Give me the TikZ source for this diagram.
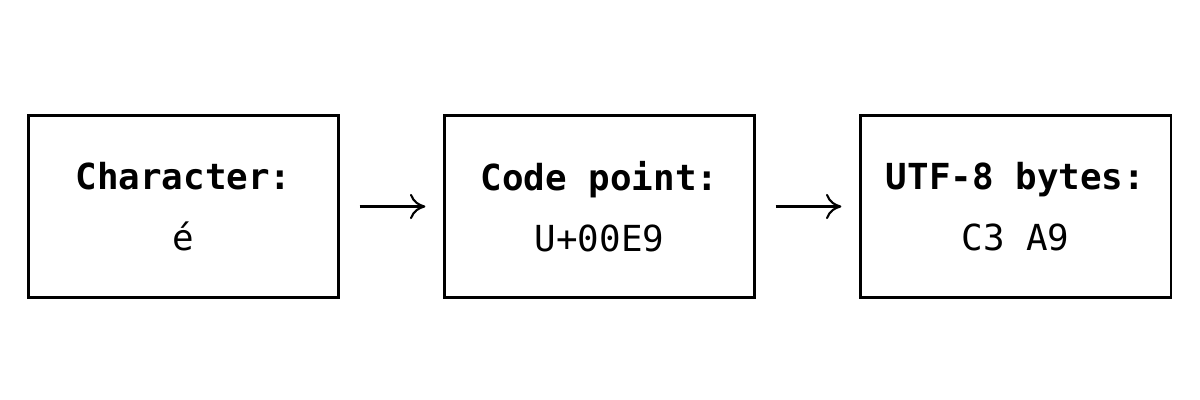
\documentclass[tikz,border=0pt]{standalone}
\usepackage{fontspec}
\setmonofont{DejaVu Sans Mono}
\usetikzlibrary{arrows.meta}
\begin{document}
\begin{tikzpicture}[x=0.025cm,y=-0.025cm,
  box/.style={draw,line width=1.5pt,minimum width=7.75cm,minimum height=4.55cm,inner sep=0,align=center,font=\ttfamily\fontsize{25.5}{43}\selectfont},
  arr/.style={-{To[length=11pt,width=18pt]},line width=1.5pt}]
\useasboundingbox (0,0) rectangle (1200,400);
\node[box] (a) at (183.5,206.5) {\textbf{Character:}\\é};
\node[box] (b) at (599.5,206.5) {\textbf{Code point:}\\U+00E9};
\node[box] (c) at (1015.5,206.5) {\textbf{UTF-8 bytes:}\\C3 A9};
\draw[arr] ([xshift=0.5cm]a.east) -- ([xshift=-0.45cm]b.west);
\draw[arr] ([xshift=0.5cm]b.east) -- ([xshift=-0.45cm]c.west);
\end{tikzpicture}
\end{document}
